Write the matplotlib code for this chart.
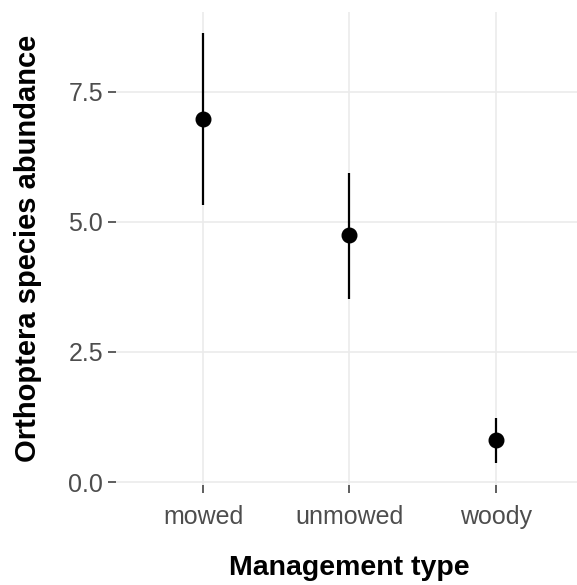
import matplotlib
matplotlib.use("Agg")
import matplotlib.pyplot as plt
import numpy as np

categories = ["mowed", "unmowed", "woody"]
means = [6.97, 4.74, 0.81]
lower = [5.32, 3.51, 0.36]
upper = [8.62, 5.93, 1.235]
yticks = [0.0, 2.5, 5.0, 7.5]
ytick_labels = ["0.0", "2.5", "5.0", "7.5"]
xlabel = "Management type"
ylabel = "Orthoptera species abundance"

plt.rcParams['font.family'] = ['Liberation Sans', 'DejaVu Sans']

fig = plt.figure(figsize=(5.77, 5.85), dpi=100)
ax = fig.add_axes([0.2003, 0.1713, 0.8107, 0.8085])

x = np.arange(len(categories))
for xi, lo, hi in zip(x, lower, upper):
    ax.plot([xi, xi], [lo, hi], color='black', lw=1.6, solid_capstyle='butt', zorder=3)
ax.plot(x, means, 'o', color='black', markersize=10.5, zorder=4)

ax.set_xlim(-0.6, len(categories) - 1 + 0.6)
ymin, ymax = min(lower), max(upper)
rng = ymax - ymin
ax.set_ylim(ymin - 0.05 * rng, ymax + 0.05 * rng)

ax.set_xticks(x)
ax.set_xticklabels(categories)
ax.set_yticks(yticks)
ax.set_yticklabels(ytick_labels)

for s in ax.spines.values():
    s.set_visible(False)
ax.grid(True, color='#EBEBEB', lw=1.2)
ax.set_axisbelow(True)
ax.tick_params(axis='both', length=5.5, width=1.1, color='#333333',
               labelcolor='#4D4D4D', labelsize=18)
ax.tick_params(axis='y', pad=3.5)
ax.tick_params(axis='x', pad=9)

ax.set_xlabel(xlabel, fontsize=20.5, fontweight='bold', labelpad=19)
ax.set_ylabel(ylabel, fontsize=21, fontweight='bold', labelpad=19)

fig.savefig("out.png", dpi=100)
